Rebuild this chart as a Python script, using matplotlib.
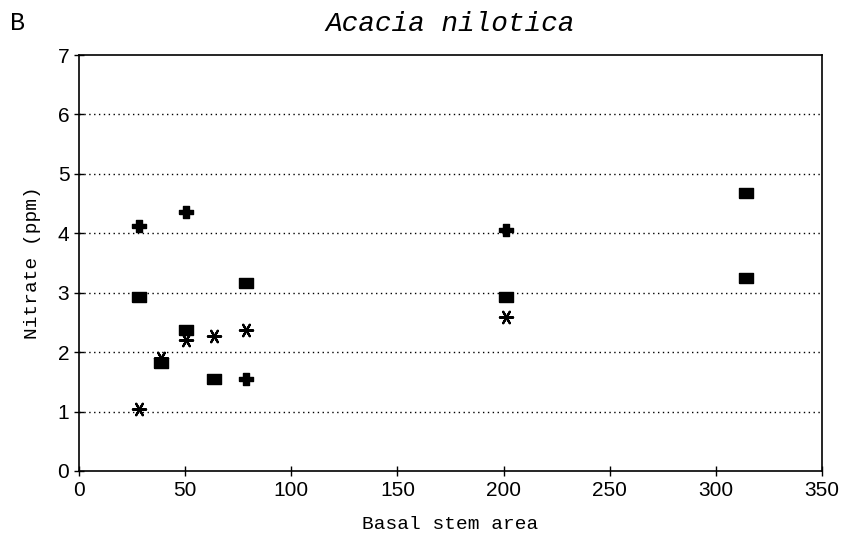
import matplotlib.pyplot as plt
import numpy as np

# basal stem area (circle areas) and nitrate values for three sampling groups
plus_x = [28.3, 50.3, 78.5, 201.0]
plus_y = [4.12, 4.35, 1.55, 4.05]

square_x = [28.3, 38.5, 50.3, 63.6, 78.5, 201.0, 314.0, 314.0]
square_y = [2.92, 1.82, 2.38, 1.55, 3.17, 2.93, 4.68, 3.25]

star_x = [28.3, 38.5, 50.3, 63.6, 78.5, 201.0]
star_y = [1.05, 1.90, 2.20, 2.27, 2.38, 2.59]

xticks = [0, 50, 100, 150, 200, 250, 300, 350]
yticks = [0, 1, 2, 3, 4, 5, 6, 7]

mono = ['Liberation Mono', 'DejaVu Sans Mono']
narrow = ['Liberation Sans Narrow', 'Liberation Sans', 'DejaVu Sans']

# wide filled box and a flattened plus, like the plotter symbols
box = [(-1, -0.72), (1, -0.72), (1, 0.72), (-1, 0.72), (-1, -0.72)]
flat_plus = [(-1, -0.3), (-0.35, -0.3), (-0.35, -0.8), (0.35, -0.8), (0.35, -0.3),
             (1, -0.3), (1, 0.3), (0.35, 0.3), (0.35, 0.8), (-0.35, 0.8),
             (-0.35, 0.3), (-1, 0.3), (-1, -0.3)]

fig = plt.figure(figsize=(8.45, 5.41), dpi=100)
ax = fig.add_axes([0.0935, 0.1294, 0.8793, 0.7689])

for y in yticks[1:-1]:
    ax.axhline(y, color='black', lw=1.0, ls=(0, (1, 2.5)), zorder=1)

ax.scatter(star_x, star_y, marker=(6, 2, 90), s=90, color='black', lw=1.6, zorder=3)
ax.scatter(square_x, square_y, marker=box, s=110, color='black', zorder=3)
ax.scatter(plus_x, plus_y, marker=flat_plus, s=110, color='black', zorder=3)

ax.set_xlim(0, 350)
ax.set_ylim(0, 7)
ax.set_xticks(xticks)
ax.set_yticks(yticks)
ax.tick_params(direction='inout', length=7, width=1, labelsize=15)
for lab in ax.get_xticklabels() + ax.get_yticklabels():
    lab.set_family(narrow)
for s in ax.spines.values():
    s.set_linewidth(1.2)

ax.set_xlabel('Basal stem area', family=mono, fontsize=14, labelpad=12)
ax.set_ylabel('Nitrate (ppm)', family=mono, fontsize=14, labelpad=12)
ax.set_title('Acacia nilotica', family=mono, style='italic', fontsize=20, pad=17)
fig.text(0.012, 0.958, 'B', family=mono, fontsize=18, va='center')

fig.savefig('out.png', dpi=100)
